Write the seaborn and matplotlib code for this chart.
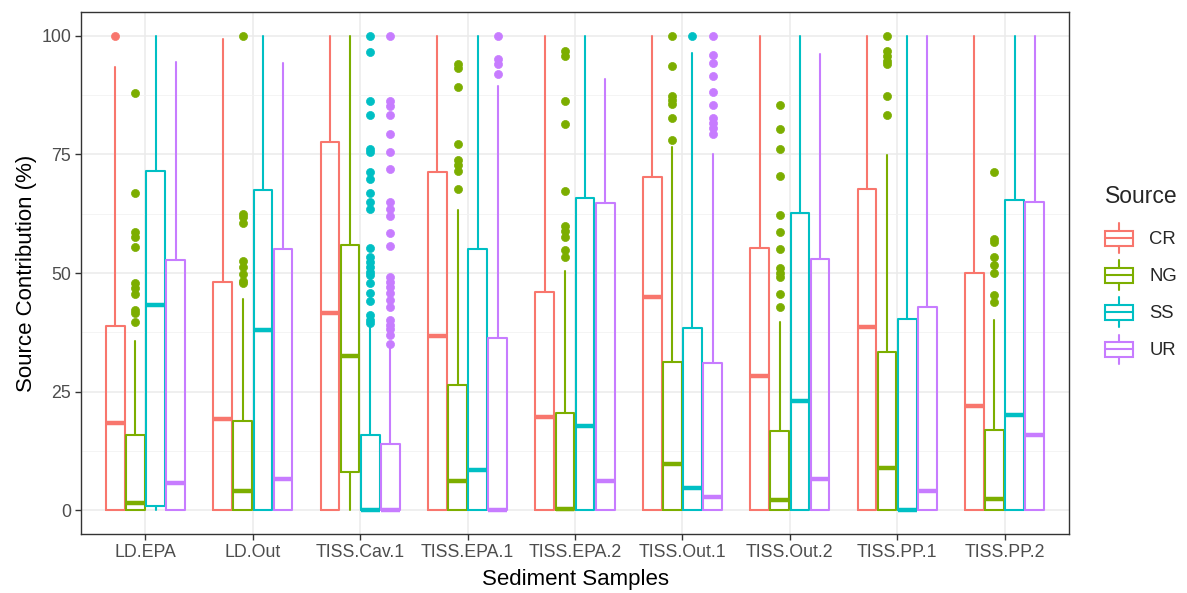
import matplotlib
matplotlib.use("Agg")
import matplotlib.pyplot as plt
import seaborn as sns
import numpy as np
from matplotlib.legend_handler import HandlerBase
from matplotlib.patches import Rectangle, Patch
from matplotlib.lines import Line2D

# ---------------- data ----------------
samples = ["LD.EPA", "LD.Out", "TISS.Cav.1", "TISS.EPA.1", "TISS.EPA.2",
           "TISS.Out.1", "TISS.Out.2", "TISS.PP.1", "TISS.PP.2"]
sources = ["CR", "NG", "SS", "UR"]
colors = ["#F8766D", "#7CAE00", "#00BFC4", "#C77CFF"]

# CR
cr_q1 = [0, 0, 0, 0, 0, 0, 0, 0, 0]
cr_med = [18.4, 19.2, 41.6, 36.8, 19.6, 45.0, 28.2, 38.6, 22.0]
cr_q3 = [38.9, 48.0, 77.6, 71.2, 46.1, 70.2, 55.3, 67.7, 50.1]
cr_lo = [0, 0, 0, 0, 0, 0, 0, 0, 0]
cr_hi = [93.5, 99.3, 100, 100, 100, 100, 100, 100, 100]
cr_out = [[100], [], [], [], [], [], [], [], []]

# NG
ng_q1 = [0, 0, 8.1, 0, 0, 0, 0, 0, 0]
ng_med = [1.6, 4.0, 32.6, 6.1, 0.2, 9.8, 2.2, 9.0, 2.4]
ng_q3 = [15.8, 18.8, 56.0, 26.4, 20.6, 31.2, 16.8, 33.3, 17.0]
ng_lo = [0, 0, 0, 0, 0, 0, 0, 0, 0]
ng_hi = [35.6, 44.5, 100, 63.2, 50.5, 76.6, 39.6, 74.8, 40.0]
ng_out = [
    [88.0, 66.9, 58.6, 57.6, 55.5, 47.8, 46.8, 45.6, 42.3, 41.6, 39.7],
    [100, 62.5, 61.9, 60.6, 52.6, 51.2, 49.8, 48.4, 47.9],
    [],
    [94.0, 93.3, 89.3, 77.1, 73.8, 72.8, 71.5, 67.8],
    [96.8, 95.7, 86.3, 81.5, 67.2, 59.9, 58.9, 57.6, 54.8, 53.3],
    [100, 93.7, 87.4, 86.5, 85.6, 82.7, 78.1],
    [85.3, 80.4, 76.1, 70.5, 62.3, 58.6, 55.0, 51.0, 49.9, 49.2, 45.6, 42.8],
    [100, 96.7, 95.7, 94.7, 94.0, 87.4, 83.3],
    [71.3, 57.2, 56.5, 53.3, 51.7, 50.1, 45.4, 43.8],
]

# SS
ss_q1 = [1.0, 0, 0, 0, 0, 0, 0, 0, 0]
ss_med = [43.3, 37.9, 0.0, 8.4, 17.7, 4.7, 23.1, 0.1, 20.1]
ss_q3 = [71.4, 67.5, 15.8, 55.1, 65.8, 38.4, 62.6, 40.3, 65.4]
ss_lo = [0, 0, 0, 0, 0, 0, 0, 0, 0]
ss_hi = [100, 100, 38.8, 100, 100, 96.3, 100, 100, 100]
ss_out = [
    [], [],
    [100, 96.5, 86.2, 83.3, 76.1, 75.4, 71.2, 69.8, 66.8, 64.9, 63.5, 55.3,
     53.4, 52.4, 51.3, 50.3, 49.6, 47.8, 45.7, 44.0, 41.2, 40.2, 39.5],
    [], [], [100], [], [], [],
]

# UR
ur_q1 = [0, 0, 0, 0, 0, 0, 0, 0, 0]
ur_med = [5.8, 6.5, 0.0, 0.0, 6.1, 2.7, 6.6, 4.0, 15.8]
ur_q3 = [52.7, 55.0, 14.0, 36.3, 64.7, 31.0, 52.9, 42.9, 64.9]
ur_lo = [0, 0, 0, 0, 0, 0, 0, 0, 0]
ur_hi = [94.4, 94.2, 34.9, 89.5, 90.9, 75.0, 96.1, 100, 100]
ur_out = [
    [], [],
    [100, 86.2, 85.1, 83.3, 79.2, 75.6, 72.0, 64.9, 63.5, 62.1, 58.5, 55.6,
     49.2, 48.2, 47.1, 45.7, 44.4, 42.8, 40.2, 39.1, 38.1, 37.0, 35.1],
    [100, 95.1, 94.0, 91.9],
    [],
    [100, 96.0, 94.2, 91.6, 88.1, 85.3, 82.7, 81.7, 80.6, 79.2],
    [], [], [],
]

yticks = [0, 25, 50, 75, 100]

stats_by_source = {
    "CR": (cr_q1, cr_med, cr_q3, cr_lo, cr_hi, cr_out),
    "NG": (ng_q1, ng_med, ng_q3, ng_lo, ng_hi, ng_out),
    "SS": (ss_q1, ss_med, ss_q3, ss_lo, ss_hi, ss_out),
    "UR": (ur_q1, ur_med, ur_q3, ur_lo, ur_hi, ur_out),
}

# ---------------- style ----------------
sns.set_theme(style="whitegrid")
plt.rcParams["font.family"] = ["Liberation Sans", "DejaVu Sans"]

fig = plt.figure(figsize=(11.87, 5.93), dpi=100)
ax = fig.add_axes([81 / 1187, 1 - 534 / 593, (1069 - 81) / 1187, (534 - 12) / 593])
ax.set_facecolor("white")

dodge = 0.75
nsrc = len(sources)
slot = dodge / nsrc
box_w = 0.174
x = np.arange(len(samples))

for k, (src, col) in enumerate(zip(sources, colors)):
    q1, med, q3, lo, hi, out = stats_by_source[src]
    stats = []
    for i in range(len(samples)):
        stats.append(dict(q1=q1[i], med=med[i], q3=q3[i], whislo=lo[i],
                          whishi=hi[i], fliers=out[i]))
    pos = x - dodge / 2 + slot * (k + 0.5)
    ax.bxp(stats, positions=pos, widths=box_w, showcaps=False,
           patch_artist=False, manage_ticks=False,
           boxprops=dict(color=col, linewidth=1.5),
           whiskerprops=dict(color=col, linewidth=1.5),
           medianprops=dict(color=col, linewidth=3.2, solid_capstyle="butt"),
           flierprops=dict(marker="o", markerfacecolor=col,
                           markeredgecolor=col, markersize=5.8,
                           markeredgewidth=0.5))

ax.set_xlim(-0.6, len(samples) - 0.4)
ax.set_ylim(-5, 105)
ax.set_xticks(x)
ax.set_xticklabels(samples)
ax.set_yticks(yticks)
ax.set_yticklabels([str(t) for t in yticks])
ax.set_yticks([12.5, 37.5, 62.5, 87.5], minor=True)

ax.grid(which="major", color="#EBEBEB", linewidth=1.1)
ax.grid(which="minor", axis="y", color="#F2F2F2", linewidth=0.6)
ax.grid(which="minor", axis="x", visible=False)
ax.set_axisbelow(True)

for sp in ax.spines.values():
    sp.set_color("#333333")
    sp.set_linewidth(1.0)
    sp.set_visible(True)

ax.tick_params(axis="both", which="major", length=4, width=1.0,
               color="#333333", labelcolor="#4D4D4D", labelsize=12.8,
               pad=3, bottom=True, left=True)
ax.tick_params(axis="both", which="minor", length=0)

ax.set_xlabel("Sediment Samples", fontsize=16, color="black", labelpad=6)
ax.set_ylabel("Source Contribution (%)", fontsize=16, color="black", labelpad=3)


# ---------------- legend with boxplot glyphs ----------------
class HandlerBox(HandlerBase):
    def create_artists(self, legend, orig_handle, xdescent, ydescent,
                       width, height, fontsize, trans):
        col = orig_handle.get_edgecolor()
        x0, y0 = -xdescent, -ydescent
        cx = x0 + width / 2
        b0 = y0 + height * 0.25
        b1 = y0 + height * 0.75
        rect = Rectangle((x0, b0), width, b1 - b0, facecolor="none",
                         edgecolor=col, linewidth=1.5, transform=trans)
        med = Line2D([x0, x0 + width], [y0 + height / 2] * 2, color=col,
                     linewidth=1.5, transform=trans)
        w1 = Line2D([cx, cx], [y0, b0], color=col, linewidth=1.5, transform=trans)
        w2 = Line2D([cx, cx], [b1, y0 + height], color=col, linewidth=1.5,
                    transform=trans)
        return [rect, med, w1, w2]


handles = [Patch(edgecolor=c, facecolor="none") for c in colors]
leg = fig.legend(handles, sources, handler_map={Patch: HandlerBox()},
                 title="Source", loc="upper left",
                 bbox_to_anchor=(1092 / 1187, 1 - 172 / 593),
                 frameon=False, fontsize=13.3, title_fontsize=16.5,
                 handlelength=1.5, handleheight=2.1, labelspacing=0.40,
                 handletextpad=0.9, borderpad=0.2)
leg._legend_box.align = "left"
leg._legend_box.sep = 11.0  # extra gap between title and entries

fig.savefig("out.png", dpi=100)
